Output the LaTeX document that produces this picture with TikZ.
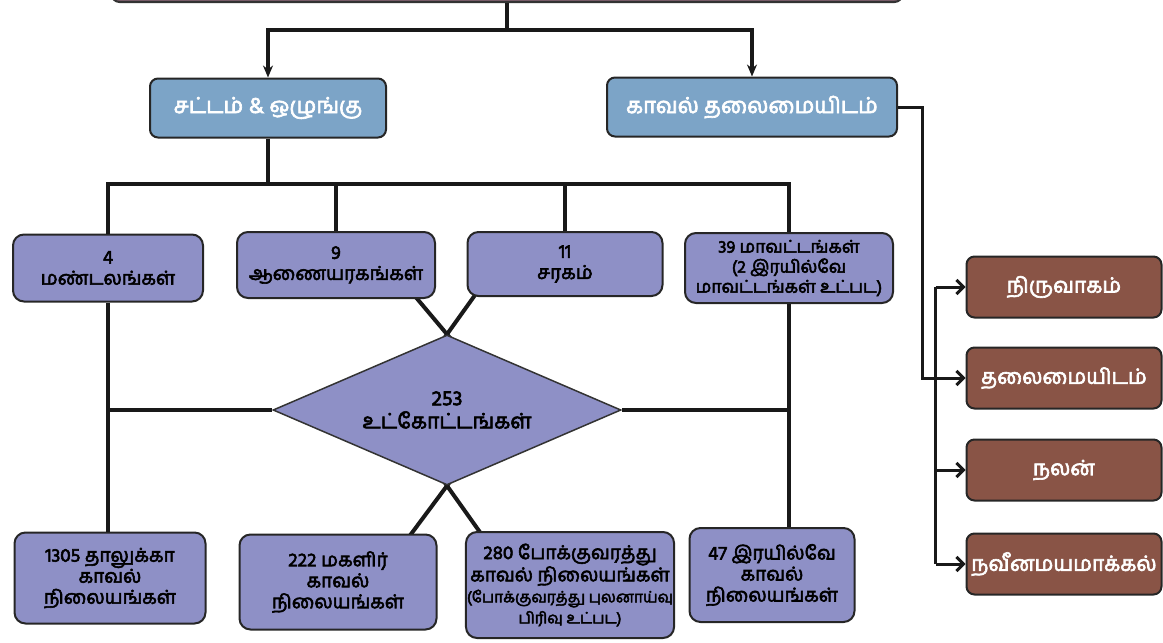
\documentclass[tikz,border=0pt]{standalone}
\usepackage{fontspec}
\newfontfamily\tamil[Script=Tamil,FakeBold=3]{Hind Madurai}
\usetikzlibrary{shapes.geometric,arrows.meta,calc,backgrounds}
\definecolor{lawblue}{RGB}{124,164,199}
\definecolor{unitviolet}{RGB}{142,144,198}
\definecolor{wingbrown}{RGB}{137,84,70}
\definecolor{headmauve}{RGB}{120,92,104}
\newcommand\kaaval{காவல்}
\newcommand\nilai{நிலையங்கள்}
\newcommand\sizeof[2]{\fontsize{#1}{#2}\selectfont}

\begin{document}
\begin{tikzpicture}[x=1pt,y=1pt,yscale=-1,
    box/.style={draw=black!85,line width=2pt,rounded corners=11pt,align=center,inner sep=1pt,font=\tamil\sizeof{19}{21}},
    bluebox/.style={box,fill=lawblue,text=white,rounded corners=8pt,font=\tamil\sizeof{22}{25}},
    unitbox/.style={box,fill=unitviolet},
    wingbox/.style={box,fill=wingbrown,text=white,rounded corners=8pt,minimum width=195,minimum height=61,font=\tamil\sizeof{21}{24}},
    link/.style={line width=4pt,black!90},
    wire/.style={line width=3pt,black!90},
    ]
        \useasboundingbox (0,0) rectangle (1163,643);
        \node[draw=black!80,line width=2pt,fill=headmauve,rounded corners=8pt,minimum width=791,minimum height=40,anchor=south] (head) at (507,3) {};
        \node[bluebox,minimum width=236,minimum height=59] (law) at (268,108) {சட்டம் \& ஒழுங்கு};
        \node[bluebox,minimum width=290,minimum height=59] (hq) at (752,107) {காவல் தலைமையிடம்};
        \node[unitbox,minimum width=190,minimum height=67] (zone) at (108,268) {4\\மண்டலங்கள்};
        \node[unitbox,minimum width=198,minimum height=66] (comm) at (336,265) {9\\ஆணையரகங்கள்};
        \node[unitbox,minimum width=195,minimum height=64] (range) at (565,264) {11\\சரகம்};
        \node[unitbox,minimum width=208,minimum height=70,font=\tamil\sizeof{17.5}{20}] (dist) at (789,268) {39 மாவட்டங்கள்\\(2 இரயில்வே\\மாவட்டங்கள் உட்பட)};
        \node[diamond,draw=black!80,line width=1.5pt,fill=unitviolet,minimum width=348,minimum height=150,aspect=2.32,inner sep=0pt,align=center,font=\tamil\sizeof{21}{23}] (sub) at (447,410) {253\\உட்கோட்டங்கள்};
        \node[unitbox,minimum width=191,minimum height=91] (taluk) at (110,578) {1305 தாலுக்கா\\\kaaval\\\nilai};
        \node[unitbox,minimum width=197,minimum height=95] (women) at (338,582) {222 மகளிர்\\\kaaval\\\nilai};
        \node[unitbox,minimum width=205,minimum height=106] (traffic) at (570,585) {280 போக்குவரத்து\\\kaaval{} \nilai\\{\sizeof{15.5}{19}(போக்குவரத்து புலனாய்வு}\\{\sizeof{15.5}{19}பிரிவு உட்பட)}};
        \node[unitbox,minimum width=165,minimum height=94] (rail) at (772,575) {47 இரயில்வே\\\kaaval\\\nilai};
        \node[wingbox] (admin) at (1064,287) {நிருவாகம்};
        \node[wingbox] (hqd) at (1064,378) {தலைமையிடம்};
        \node[wingbox] (welfare) at (1064,470) {நலன்};
        \node[wingbox] (modern) at (1064,564) {நவீனமயமாக்கல்};
        \draw[link] (head.south) -- ++(0,27) coordinate (split);
        \draw[link,-{Stealth[length=12pt,width=10pt]}] (split) -| (law);
        \draw[link,-{Stealth[length=12pt,width=10pt]}] (split) -| (hq);
        \draw[link] (law.south) -- ++(0,45) coordinate (fork);
        \foreach \n in {zone,comm,range,dist}
            \draw[link] (fork) -| (\n);
        \draw[link] (zone.south) -- (zone.south |- taluk.north);
        \draw[link] (dist.south) -- (dist.south |- rail.north);
        \draw[link] (zone.south |- sub.west) -- (sub.west);
        \draw[link] (sub.east) -- (dist.south |- sub.east);
        \begin{scope}[on background layer]
            \draw[link,shorten >=-6pt] ($(comm.south east)+(-22,-4)$) -- (sub.north);
            \draw[link,shorten >=-6pt] ($(range.south west)+(10,-4)$) -- (sub.north);
            \draw[link,shorten <=-6pt] (sub.south) -- ($(women.north east)+(-29,4)$);
            \draw[link,shorten <=-6pt] (sub.south) -- ($(traffic.north west)+(17,4)$);
        \end{scope}
        \draw[wire,-{Straight Barb[length=7pt,width=14pt]}] (hq.east) -- ++(24,0) |- (hqd);
        \coordinate (bustop) at ($(admin.west)+(-30,0)$);
        \coordinate (busend) at ($(modern.west)+(-30,0)$);
        \draw[wire] (bustop) -- (busend);
        \foreach \n in {admin,welfare,modern}
            \draw[wire,-{Straight Barb[length=7pt,width=14pt]}] (bustop |- \n.west) -- (\n.west);
    \end{tikzpicture}
\end{document}
